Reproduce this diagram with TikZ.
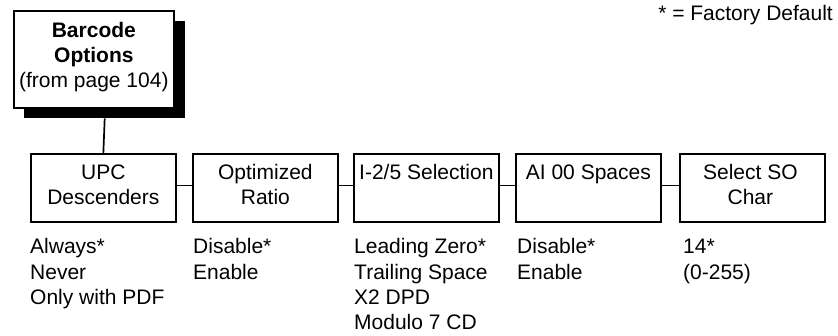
\documentclass[tikz,border=0pt]{standalone}
\usepackage{fontspec}
\setmainfont{Liberation Sans}
\usetikzlibrary{calc}
\newcommand{\firststrut}{\rule{0pt}{20pt}}
\tikzset{
  menubox/.style={draw=black, line width=1.7pt, fill=white, minimum width=145pt, minimum height=68pt, inner sep=0pt, anchor=north west},
  boxtext/.style={align=center, inner sep=0pt, anchor=north, font=\fontsize{21}{25.3}\selectfont},
  opttext/.style={align=left, inner sep=0pt, anchor=north west, font=\fontsize{21}{25.3}\selectfont},
  link/.style={line width=1.7pt},
}
\begin{document}
\begin{tikzpicture}[x=1pt,y=-1pt]
\useasboundingbox (0,0) rectangle (838,335);
% top box with shadow
\node[fill=black, minimum width=161pt, minimum height=97pt, inner sep=0pt, anchor=north west] (shadow) at (24,21) {};
\node[menubox, minimum width=160pt, minimum height=97pt] (bc) at (13,10) {};
\node[boxtext] (bct) at ($(bc.north)+(0,7)$) {\firststrut\textbf{Barcode}\\\textbf{Options}\\(from page 104)};
% row boxes
\node[menubox] (upc) at (30,153) {};
\node[menubox] (opt) at (192,153) {};
\node[menubox] (i25) at (353,153) {};
\node[menubox] (ai) at (515,153) {};
\node[menubox] (so) at (679,153) {};
\node[boxtext] (upct) at ($(upc.north)+(0,6)$) {\firststrut UPC\\Descenders};
\node[boxtext] (optt) at ($(opt.north)+(0,6)$) {\firststrut Optimized\\Ratio};
\node[boxtext] (i25t) at ($(i25.north)+(0,6)$) {\firststrut I-2/5 Selection};
\node[boxtext] (ait) at ($(ai.north)+(0,6)$) {\firststrut AI 00 Spaces};
\node[boxtext] (sot) at ($(so.north)+(-2,6)$) {\firststrut Select SO\\Char};
% options
\node[opttext] (upco) at ($(upc.south west)+(0,11)$) {\firststrut Always*\\Never\\Only with PDF};
\node[opttext] (opto) at ($(opt.south west)+(1,11)$) {\firststrut Disable*\\Enable};
\node[opttext] (i25o) at ($(i25.south west)+(1,11)$) {\firststrut Leading Zero*\\Trailing Space\\X2 DPD\\Modulo 7 CD};
\node[opttext] (aio) at ($(ai.south west)+(2,11)$) {\firststrut Disable*\\Enable};
\node[opttext] (soo) at ($(so.south west)+(4,11)$) {\firststrut 14*\\(0-255)};
% connectors
\draw[link] (shadow.south) -- (upc.north);
\draw[link] ([yshift=2.5pt]upc.east) -- ([yshift=2.5pt]opt.west);
\draw[link] ([yshift=2.5pt]opt.east) -- ([yshift=2.5pt]i25.west);
\draw[link] ([yshift=2.5pt]i25.east) -- ([yshift=2.5pt]ai.west);
\draw[link] ([yshift=2.5pt]ai.east) -- ([yshift=2.5pt]so.west);
% footnote
\node[inner sep=0pt, anchor=base east, font=\fontsize{21}{25.3}\selectfont] (note) at (833,20) {* = Factory Default};
\end{tikzpicture}
\end{document}
